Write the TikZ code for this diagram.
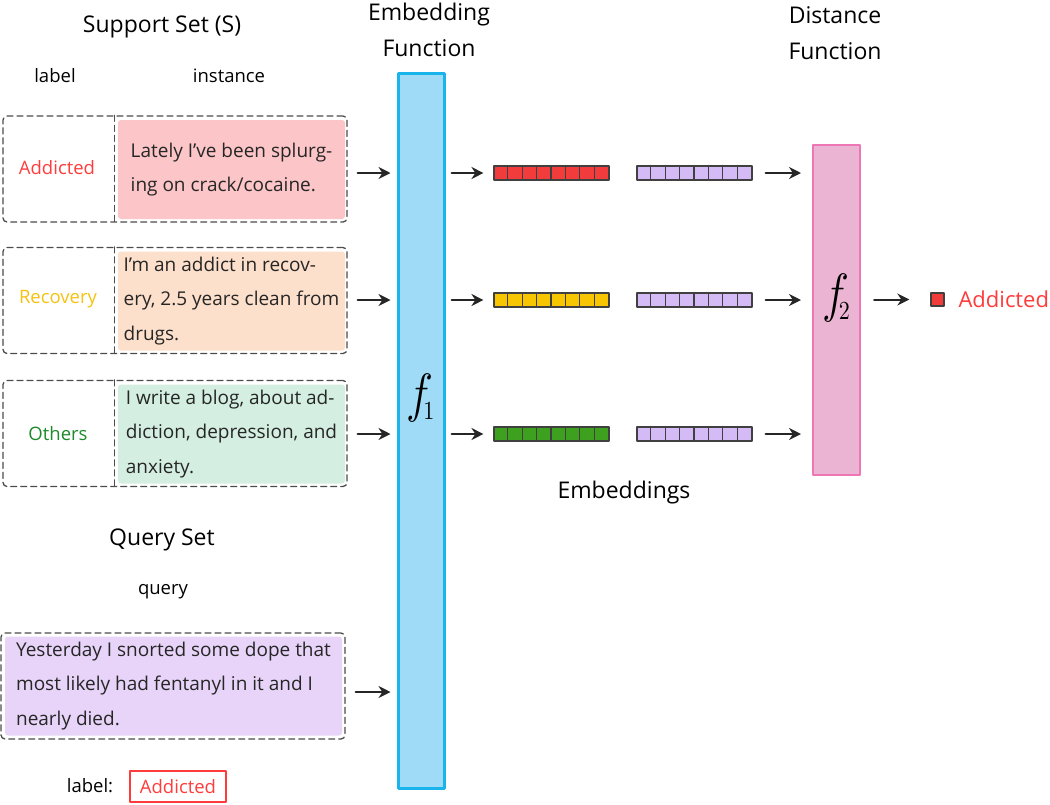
\documentclass[tikz,border=0pt]{standalone}
\usepackage{amsmath}
\usepackage{graphicx}
\usepackage{fontspec}
\setmainfont{Open Sans}
\usetikzlibrary{arrows.meta,calc,positioning}

\definecolor{redlab}{HTML}{FF3B3B}
\definecolor{yellab}{HTML}{F5C211}
\definecolor{grnlab}{HTML}{1C8A2A}
\definecolor{pinkfill}{HTML}{FCC5C7}
\definecolor{peachfill}{HTML}{FDE0CC}
\definecolor{mintfill}{HTML}{D4EEE1}
\definecolor{lavfill}{HTML}{E7D4F8}
\definecolor{cyanf}{HTML}{9FDAF6}
\definecolor{cyanb}{HTML}{19B4EC}
\definecolor{rosef}{HTML}{EBB4D2}
\definecolor{roseb}{HTML}{EC77B4}
\definecolor{redcell}{HTML}{F23B3B}
\definecolor{yelcell}{HTML}{F7C600}
\definecolor{grncell}{HTML}{3DA11F}
\definecolor{purcell}{HTML}{D5BBF5}

\newcommand{\fnsym}[1]{\scalebox{2.2}[2.6]{$f_{\!\scriptscriptstyle #1}$}}

\tikzset{
  outbox/.style={draw=black!70, dash pattern=on 6pt off 4pt, line width=1.3pt, rounded corners=4pt, minimum width=344pt, minimum height=106pt, inner sep=0pt},
  divline/.style={draw=black!70, dash pattern=on 6pt off 4pt, line width=1.3pt},
  inst/.style={rounded corners=3pt, minimum width=227pt, minimum height=99pt, align=left, inner sep=0pt, text=black!85, font=\fontsize{19}{34.5}\selectfont},
  lbl/.style={font=\fontsize{18.5}{22}\selectfont},
  ttl/.style={font=\fontsize{23}{36}\selectfont, align=center},
  fnlab/.style={font=\fontsize{20}{20}\selectfont, inner sep=0pt},
  bar/.style={draw=black!75, line width=1.1pt, minimum width=115pt, minimum height=14pt, inner sep=0pt},
  arr/.style={-{Stealth[length=12pt,width=12pt]}, line width=2pt, black!85},
  every picture/.style={line cap=round, line join=round}
}

\begin{document}
\begin{tikzpicture}[x=1pt, y=-1pt]
  \useasboundingbox (0,0) rectangle (1050,804);

  % support set
  \node[ttl] (supt) at (162,27) {Support Set (S)};
  \node[lbl] (lblh) at (55,76) {label};
  \node[lbl] (insth) at (229,76) {instance};

  \node[outbox] (sup1) at (175,169) {};
  \node[inst, fill=pinkfill] (txt1) at (231.5,169.5) {Lately I've been splurg-\\ing on crack/cocaine.};
  \draw[divline] (sup1.north west) ++(112,0) -- ++(0,106);
  \node[lbl, text=redlab] (lab1) at (57,168) {Addicted};

  \node[outbox] (sup2) at (175,300.5) {};
  \node[inst, fill=peachfill] (txt2) at (231.5,301) {I'm an addict in recov-\\ery, 2.5 years clean from\\drugs.};
  \draw[divline] (sup2.north west) ++(112,0) -- ++(0,106);
  \node[lbl, text=yellab] (lab2) at (58,299) {Recovery};

  \node[outbox] (sup3) at (175,433.5) {};
  \node[inst, fill=mintfill] (txt3) at (231.5,434) {I write a blog, about ad-\\diction, depression, and\\anxiety.};
  \draw[divline] (sup3.north west) ++(112,0) -- ++(0,106);
  \node[lbl, text=grnlab] (lab3) at (58,434) {Others};

  % query set
  \node[ttl] (qryt) at (162,540) {Query Set};
  \node[lbl] (qryh) at (163,592) {query};
  \node[outbox] (qry) at (173,686) {};
  \node[inst, fill=lavfill, minimum width=337pt] (txtq) at (173.5,686) {Yesterday I snorted some dope that\\most likely had fentanyl in it and I\\nearly died.};
  \node[lbl] (qlab) at (90,786) {label:};
  \node[lbl, draw=redlab, line width=1.5pt, text=redlab, minimum width=96pt, minimum height=31pt, inner sep=0pt] (qans) at (178,786.5) {Addicted};

  % embedding function
  \node[ttl] (embt) at (429,30) {Embedding\\Function};
  \node[draw=cyanb, fill=cyanf, line width=3pt, minimum width=46pt, minimum height=715pt] (f1) at (421,430.5) {};
  \node[fnlab] (f1lab) at (421,398) {\fnsym{1}};

  % embeddings
  \node[bar, fill=redcell] (e1) at (551.5,173) {};
  \node[bar, fill=yelcell] (e2) at (551.5,300) {};
  \node[bar, fill=grncell] (e3) at (551.5,434) {};
  \node[bar, fill=purcell] (p1) at (694.5,173) {};
  \node[bar, fill=purcell] (p2) at (694.5,300) {};
  \node[bar, fill=purcell] (p3) at (694.5,434) {};
  \foreach \b in {e1,e2,e3,p1,p2,p3}
    \foreach \i in {1,...,7}
      \draw[draw=black!75, line width=1.1pt] (\b.north west) ++(\i*14.375,0) -- ++(0,14);
  \node[ttl] (embs) at (624,493) {Embeddings};

  % distance function
  \node[ttl] (dist) at (835,33) {Distance\\Function};
  \node[draw=roseb, fill=rosef, line width=2pt, minimum width=47pt, minimum height=330pt] (f2) at (836.5,310) {};
  \node[fnlab] (f2lab) at (836.5,298) {\fnsym{2}};

  % output
  \node[draw=black!75, fill=redcell, line width=1.3pt, minimum size=13pt, inner sep=0pt] (outsq) at (937.5,299.5) {};
  \node[ttl, font=\fontsize{22}{26}\selectfont, text=redlab, anchor=west] (outl) at (955,299) {Addicted};

  % arrows
  \foreach \s/\e in {sup1/e1, sup2/e2, sup3/e3}
    \draw[arr, shorten <=10pt, shorten >=6pt] (\s.east |- \e) -- (f1.west |- \e);
  \draw[arr, shorten <=10pt, shorten >=6pt] ([yshift=-6pt]qry.east) -- ([yshift=-6pt]qry.east -| f1.west);
  \foreach \e in {e1,e2,e3}
    \draw[arr, shorten <=6pt, shorten >=10pt] (f1.east |- \e) -- (\e.west);
  \foreach \p in {p1,p2,p3}
    \draw[arr, shorten <=13pt, shorten >=11pt] (\p.east) -- (f2.west |- \p);
  \draw[arr, shorten <=13pt, shorten >=21pt] (f2.east |- outsq) -- (outsq.west);
\end{tikzpicture}
\end{document}
